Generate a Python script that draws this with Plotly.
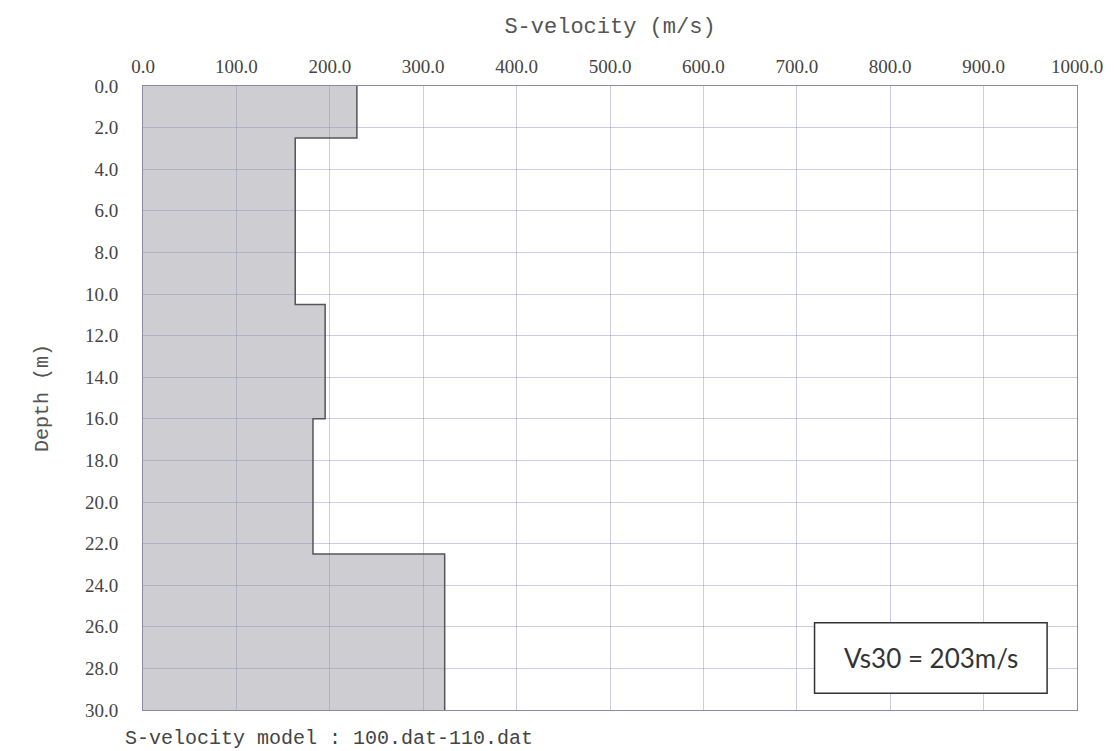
import plotly.graph_objects as go

# Layered S-wave velocity model (top/bottom depth in m, velocity in m/s)
layer_top = [0.0, 2.5, 10.5, 16.0, 22.5]
layer_bottom = [2.5, 10.5, 16.0, 22.5, 30.0]
velocity = [229, 163, 195, 182, 323]

x_ticks = [0, 100, 200, 300, 400, 500, 600, 700, 800, 900, 1000]
y_ticks = [0, 2, 4, 6, 8, 10, 12, 14, 16, 18, 20, 22, 24, 26, 28, 30]
vs30_label = "Vs30 = 203m/s"
model_label = "S-velocity model : 100.dat-110.dat"

# Step profile: each layer contributes its top and bottom at its velocity
xs, ys = [], []
for top, bot, v in zip(layer_top, layer_bottom, velocity):
    xs += [v, v]
    ys += [top, bot]

fig = go.Figure()
fig.add_trace(go.Scatter(
    x=xs, y=ys, mode="lines",
    fill="tozerox", fillcolor="rgba(150,150,160,0.48)",
    line=dict(color="#555555", width=1.5),
    hoverinfo="skip", showlegend=False,
))

serif = "Liberation Serif"
mono = "Liberation Mono"
grid = "rgba(120,120,200,0.38)"
frame = "#8a8aa8"

fig.update_layout(
    width=1115, height=751,
    margin=dict(l=143, r=36, t=86, b=41),
    paper_bgcolor="white", plot_bgcolor="white",
    xaxis=dict(
        range=[0, 1000], side="top", tickvals=x_ticks, tickformat=".1f",
        showgrid=True, gridcolor=grid, gridwidth=1,
        showline=True, linecolor=frame, linewidth=1, mirror=True,
        zeroline=False, ticks="", ticklabelstandoff=4,
        tickfont=dict(family=serif, size=19, color="#444"),
        title=dict(text="S-velocity (m/s)", standoff=16,
                   font=dict(family=mono, size=22, color="#555")),
    ),
    yaxis=dict(
        range=[30, 0], tickvals=y_ticks, tickformat=".1f",
        showgrid=True, gridcolor=grid, gridwidth=1,
        showline=True, linecolor=frame, linewidth=1, mirror=True,
        zeroline=False, ticks="", ticklabelstandoff=20,
        tickfont=dict(family=serif, size=19, color="#444"),
        title=dict(text="Depth (m)", standoff=30,
                   font=dict(family=mono, size=20, color="#555")),
    ),
)

# Vs30 result box
fig.add_shape(type="rect", xref="x", yref="y",
              x0=719, x1=968, y0=25.8, y1=29.2,
              line=dict(color="#333", width=1.5), fillcolor="white", layer="above")
fig.add_annotation(x=(719 + 968) / 2, y=27.5, xref="x", yref="y",
                   text=vs30_label, showarrow=False,
                   font=dict(family="Lato", size=26, color="#333"))

# Model file caption below the plot
fig.add_annotation(x=(123 - 143) / (1115 - 143 - 36),
                   y=-(738 - 710) / (751 - 86 - 41),
                   xref="paper", yref="paper",
                   text=model_label, showarrow=False, xanchor="left", yanchor="middle",
                   font=dict(family=mono, size=20, color="#444"))

fig.write_html("out.html")
